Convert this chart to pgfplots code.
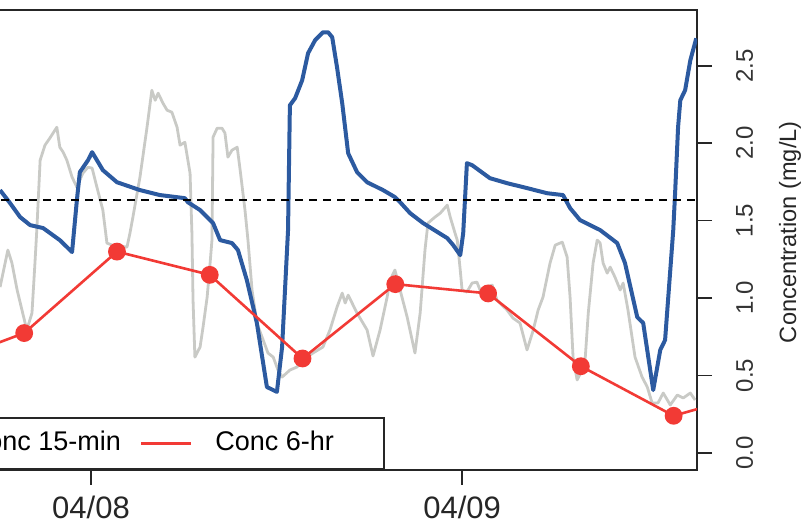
\documentclass[border=0pt]{standalone}
\usepackage{fontspec}
\setmainfont{Liberation Sans}
\usepackage{pgfplots}
\pgfplotsset{compat=1.18}
\definecolor{concblue}{HTML}{2C5AA0}
\definecolor{concred}{HTML}{F23A35}
\definecolor{flowgray}{HTML}{C9CAC6}

\begin{document}
\begin{tikzpicture}
\path[use as bounding box, clip] (0,0) rectangle (402pt,261.5pt);
\begin{axis}[
    at={(348.5pt,26.5pt)}, anchor=south east,
    scale only axis,
    width=411pt, height=230pt,
    xmin=7.418, xmax=9.633,
    ymin=-0.11, ymax=2.86,
    axis line style={black!85, line width=0.8pt},
    every tick/.style={black!85, line width=0.8pt},
    tick align=outside,
    major tick length=7.5pt,
    xtick={8,9}, xticklabels={04/08,04/09},
    xtick pos=bottom, xticklabel pos=bottom,
    xticklabel shift=2pt,
    xticklabel style={font=\fontsize{15.5}{18}\selectfont, black!85},
    ytick={0,0.5,1,1.5,2,2.5},
    yticklabels={0.0,0.5,1.0,1.5,2.0,2.5},
    ytick pos=right, yticklabel pos=right,
    yticklabel shift=8.5pt,
    yticklabel style={rotate=90, anchor=north, font=\fontsize{12}{14}\selectfont, black!80},
    ylabel={Concentration (mg/L)},
    ylabel style={at={(axis description cs:1.113,0.517)}, anchor=center,
        font=\fontsize{11.8}{14}\selectfont, black!85},
    legend columns=2,
    legend image code/.code={\draw[#1] (0pt,0pt) -- (25pt,0pt);},
    legend style={at={(0,0)}, anchor=south west, draw=black!85, line width=0.8pt,
        fill=white, font=\fontsize{13.5}{16}\selectfont,
        inner xsep=7.5pt, inner ysep=6.5pt,
        nodes={inner sep=0pt, text height=9.7pt, text depth=2.8pt},
        /tikz/every odd column/.append style={column sep=11.5pt},
        /tikz/every even column/.append style={column sep=9.5pt}},
  ]
  % 15-min flow trace (grey)
  \addplot[forget plot, flowgray, line width=1.4pt, line join=round] coordinates {
    (7.755,1.071) (7.776,1.310) (7.787,1.226) (7.801,1.052) (7.814,0.923)
    (7.827,0.794) (7.841,0.903) (7.849,1.226) (7.854,1.439) (7.863,1.890)
    (7.876,1.987) (7.889,2.032) (7.908,2.103) (7.916,1.974) (7.925,1.942)
    (7.935,1.890) (7.949,1.781) (7.962,1.716) (7.978,1.806) (7.992,1.845)
    (8.003,1.839) (8.016,1.716) (8.032,1.568) (8.043,1.355) (8.057,1.342)
    (8.078,1.335) (8.097,1.329) (8.105,1.419) (8.113,1.523) (8.132,1.781)
    (8.151,2.103) (8.164,2.342) (8.173,2.277) (8.181,2.323) (8.194,2.258)
    (8.205,2.213) (8.218,2.200) (8.232,2.103) (8.240,1.987) (8.253,2.006)
    (8.267,1.806) (8.272,1.419) (8.275,0.987) (8.280,0.619) (8.294,0.684)
    (8.302,0.813) (8.313,1.006) (8.321,1.226) (8.326,1.374) (8.329,2.039)
    (8.340,2.097) (8.353,2.097) (8.361,2.065) (8.369,1.910) (8.380,1.955)
    (8.394,1.974) (8.402,1.826) (8.415,1.568) (8.423,1.374) (8.434,1.052)
    (8.447,0.839) (8.464,0.729) (8.477,0.645) (8.491,0.619) (8.504,0.535)
    (8.515,0.490) (8.536,0.535) (8.555,0.555) (8.571,0.600) (8.598,0.645)
    (8.625,0.684) (8.644,0.794) (8.663,0.942) (8.677,1.032) (8.685,0.968)
    (8.693,1.019) (8.717,0.903) (8.744,0.794) (8.760,0.626) (8.779,0.794)
    (8.798,1.006) (8.806,1.116) (8.819,1.181) (8.833,1.052) (8.852,0.877)
    (8.873,0.645) (8.887,0.903) (8.900,1.310) (8.908,1.484) (8.927,1.523)
    (8.941,1.548) (8.960,1.600) (8.968,1.523) (8.981,1.419) (8.987,1.374)
    (8.995,1.181) (9.000,1.052) (9.013,1.039) (9.027,1.097) (9.040,1.103)
    (9.054,1.019) (9.067,1.071) (9.081,1.084) (9.094,0.987) (9.121,0.923)
    (9.137,0.871) (9.156,0.839) (9.175,0.665) (9.191,0.787) (9.205,0.923)
    (9.218,1.006) (9.237,1.226) (9.251,1.342) (9.270,1.361) (9.283,1.265)
    (9.291,1.006) (9.299,0.619) (9.310,0.471) (9.323,0.535) (9.332,0.619)
    (9.340,0.903) (9.353,1.226) (9.364,1.374) (9.372,1.355) (9.380,1.226)
    (9.391,1.161) (9.399,1.200) (9.412,1.135) (9.426,1.052) (9.434,1.097)
    (9.447,0.923) (9.466,0.619) (9.485,0.490) (9.499,0.426) (9.512,0.323)
    (9.528,0.323) (9.542,0.387) (9.561,0.310) (9.580,0.374) (9.596,0.355)
    (9.615,0.387) (9.628,0.342)
  };
  % 15-min concentration
  \addplot[concblue, line width=2pt, line join=round] coordinates {
    (7.755,1.697) (7.782,1.613) (7.809,1.523) (7.836,1.471) (7.871,1.452)
    (7.916,1.374) (7.949,1.297) (7.962,1.632) (7.970,1.813) (7.992,1.890)
    (8.003,1.942) (8.032,1.826) (8.070,1.748) (8.132,1.697) (8.186,1.665)
    (8.253,1.645) (8.261,1.619) (8.294,1.568) (8.329,1.484) (8.348,1.374)
    (8.380,1.355) (8.396,1.310) (8.420,1.116) (8.447,0.839) (8.474,0.426)
    (8.501,0.394) (8.515,0.684) (8.531,1.439) (8.536,2.245) (8.550,2.290)
    (8.569,2.406) (8.585,2.581) (8.604,2.665) (8.625,2.716) (8.639,2.716)
    (8.650,2.684) (8.663,2.490) (8.677,2.258) (8.693,1.935) (8.717,1.813)
    (8.744,1.748) (8.787,1.697) (8.819,1.652) (8.833,1.619) (8.860,1.548)
    (8.895,1.484) (8.960,1.387) (8.976,1.342) (8.995,1.277) (9.003,1.419)
    (9.013,1.871) (9.027,1.858) (9.075,1.774) (9.121,1.742) (9.175,1.710)
    (9.229,1.677) (9.272,1.665) (9.291,1.581) (9.318,1.503) (9.372,1.439)
    (9.418,1.355) (9.439,1.226) (9.472,0.877) (9.488,0.839) (9.515,0.406)
    (9.534,0.665) (9.547,0.729) (9.569,1.439) (9.574,1.677) (9.582,2.103)
    (9.588,2.277) (9.601,2.342) (9.615,2.535) (9.631,2.677)
  };
  \addlegendentry{Conc 15-min}
  % 6-hr composite concentration
  \addplot[concred, line width=1.3pt, mark=*, mark size=3.8pt,
      mark options={fill=concred, draw=concred}] coordinates {
    (7.57,0.55) (7.82,0.774) (8.07,1.30) (8.32,1.15) (8.57,0.61)
    (8.82,1.09) (9.07,1.03) (9.32,0.56) (9.57,0.24) (9.82,0.41)
  };
  \addlegendentry{Conc 6-hr\rule{17.5pt}{0pt}}
  % threshold
  \addplot[forget plot, black, line width=0.8pt, dash pattern=on 4pt off 3pt]
    coordinates {(7.418,1.632) (9.633,1.632)};
\end{axis}
\end{tikzpicture}
\end{document}
